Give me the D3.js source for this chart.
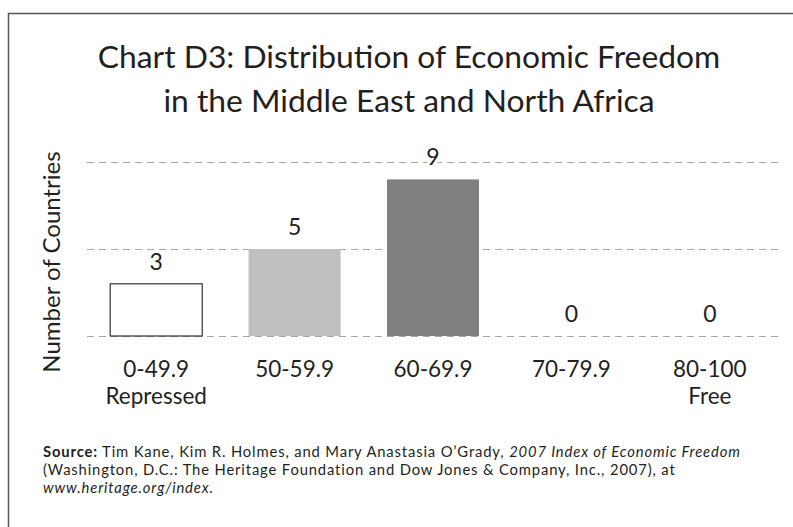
<!DOCTYPE html>
<html>
<head>
<meta charset="utf-8">
<script src="https://cdn.jsdelivr.net/npm/d3@7"></script>
<style>
  body { margin: 0; background: #fff; }
  text { font-family: Lato, "Open Sans", sans-serif; fill: #231f20; }
</style>
</head>
<body>
<div id="chart"></div>
<script>
const categories = ["0-49.9", "50-59.9", "60-69.9", "70-79.9", "80-100"]
const subLabels = ["Repressed", "", "", "", "Free"]
const counts = [3, 5, 9, 0, 0]
const barColors = ["#ffffff", "#bfbfbf", "#808080", "#808080", "#808080"]
const gridTicks = [0, 5, 10]
const titleLines = ["Chart D3: Distribution of Economic Freedom", "in the Middle East and North Africa"]

const W = 793, H = 527
const margin = {top: 162, right: 14, bottom: 191, left: 87},
    width = W - margin.left - margin.right,
    height = H - margin.top - margin.bottom;

const svg = d3.select("#chart")
  .append("svg")
    .attr("width", W)
    .attr("height", H)

// frame: left + top rule only
svg.append("path")
  .attr("d", `M8.5,${H} V13.5 H${W}`)
  .attr("fill", "none")
  .attr("stroke", "#555")
  .attr("stroke-width", 1.5)

svg.selectAll(".title")
  .data(titleLines)
  .enter()
  .append("text")
    .attr("x", 409)
    .attr("y", (d, i) => 68 + i * 44)
    .attr("text-anchor", "middle")
    .style("font-size", "31.8px")
    .text(d => d)

const g = svg.append("g")
  .attr("transform", `translate(${margin.left},${margin.top})`)

const x = d3.scaleBand()
  .domain(categories)
  .range([0, width])
  .paddingInner(0.335)
  .paddingOuter(0.1675)

const y = d3.scaleLinear()
  .domain([0, 10])
  .range([height, 0])

g.selectAll(".grid")
  .data(gridTicks)
  .enter()
  .append("line")
    .attr("x1", 0)
    .attr("x2", width)
    .attr("y1", d => y(d) + 0.5)
    .attr("y2", d => y(d) + 0.5)
    .attr("stroke", "#a6a6a6")
    .attr("stroke-dasharray", "7,5")

g.selectAll(".bar")
  .data(counts)
  .enter()
  .append("rect")
    .attr("x", (d, i) => x(categories[i]))
    .attr("y", d => y(d))
    .attr("width", x.bandwidth())
    .attr("height", d => height - y(d))
    .attr("fill", (d, i) => barColors[i])
    .attr("stroke", (d, i) => i == 0 ? "#333" : "none")
    .attr("stroke-width", 1.2)

g.selectAll(".val")
  .data(counts)
  .enter()
  .append("text")
    .attr("x", (d, i) => x(categories[i]) + x.bandwidth() / 2)
    .attr("y", d => y(d) - 14)
    .attr("text-anchor", "middle")
    .style("font-size", "23px")
    .style("stroke", "#fff")
    .style("stroke-width", 6)
    .style("paint-order", "stroke")
    .text(d => d)

g.selectAll(".cat")
  .data(categories)
  .enter()
  .append("text")
    .attr("x", d => x(d) + x.bandwidth() / 2)
    .attr("y", height + 41)
    .attr("text-anchor", "middle")
    .style("font-size", "22.5px")
    .text(d => d)

g.selectAll(".sub")
  .data(subLabels)
  .enter()
  .append("text")
    .attr("x", (d, i) => x(categories[i]) + x.bandwidth() / 2)
    .attr("y", height + 68)
    .attr("text-anchor", "middle")
    .style("font-size", "22.5px")
    .text(d => d)

svg.append("text")
  .attr("transform", "translate(60,262) rotate(-90)")
  .attr("text-anchor", "middle")
  .style("font-size", "24px")
  .text("Number of Countries")

// source note
const src = svg.append("g")
  .style("font-size", "14.8px")
  .style("letter-spacing", "0.85px")
const l1 = src.append("text").attr("x", 43).attr("y", 457)
l1.append("tspan").style("font-weight", "bold").text("Source:")
l1.append("tspan").text(" Tim Kane, Kim R. Holmes, and Mary Anastasia O\u2019Grady, ")
l1.append("tspan").style("font-style", "italic").text("2007 Index of Economic Freedom")
src.append("text").attr("x", 43).attr("y", 475)
  .text("(Washington, D.C.: The Heritage Foundation and Dow Jones & Company, Inc., 2007), at")
src.append("text").attr("x", 43).attr("y", 493)
  .style("font-style", "italic")
  .text("www.heritage.org/index.")
</script>
</body>
</html>
